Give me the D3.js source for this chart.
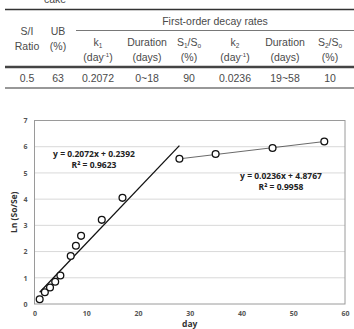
<!DOCTYPE html>
<html>
<head>
<meta charset="utf-8">
<script src="https://cdn.jsdelivr.net/npm/d3@7"></script>
<style>
  body { margin: 0; background: #fff; }
  svg { display: block; }
</style>
</head>
<body>
<svg id="chart" width="354" height="329"></svg>
<script>
// table content
const colCenters = [27, 58, 98, 147, 189, 235, 285, 330];
const headTop = ["S/I", "UB"];
const headBottom = ["Ratio", "(%)"];
const rowValues = ["0.5", "63", "0.2072", "0~18", "90", "0.0236", "19~58", "10"];

// scatter data
const days = [1, 2, 3, 4, 5, 7, 8, 9, 13, 17, 28, 35, 46, 56];
const lnRatio = [0.18, 0.45, 0.63, 0.85, 1.09, 1.83, 2.22, 2.6, 3.21, 4.05, 5.54, 5.72, 5.95, 6.2];

// trendlines
const slopes = [0.2072, 0.0236];
const intercepts = [0.2392, 4.8767];
const fitRanges = [[1, 28], [28, 56]];
const fitLabels = [["y = 0.2072x + 0.2392", "R² = 0.9623"], ["y = 0.0236x + 4.8767", "R² = 0.9958"]];

const xTicks = [0, 10, 20, 30, 40, 50, 60];
const yTicks = [0, 1, 2, 3, 4, 5, 6, 7];

const svg = d3.select("#chart");

// ---------- table ----------
const tbl = svg.append("g")
    .style("font-family", "'Liberation Sans', Arial, sans-serif")
    .style("font-size", "10.5px")
    .attr("fill", "#4a4a4a");

tbl.append("text").attr("x", 55).attr("y", 3).attr("text-anchor", "middle").text("cake");

tbl.append("line").attr("x1", 5).attr("x2", 354).attr("y1", 9.5).attr("y2", 9.5)
    .attr("stroke", "#333").attr("stroke-width", 1.6);
tbl.append("text").attr("x", 215).attr("y", 24.5).attr("text-anchor", "middle").text("First-order decay rates");
tbl.append("line").attr("x1", 76).attr("x2", 354).attr("y1", 30.5).attr("y2", 30.5)
    .attr("stroke", "#555").attr("stroke-width", 0.8);

headTop.forEach((t, i) => {
    tbl.append("text").attr("x", colCenters[i]).attr("y", 35).attr("text-anchor", "middle").text(t);
    tbl.append("text").attr("x", colCenters[i]).attr("y", 50).attr("text-anchor", "middle").text(headBottom[i]);
});

// sub headers with sub/superscripts
function kHead(x, n) {
    const t = tbl.append("text").attr("x", x).attr("y", 45.5).attr("text-anchor", "middle");
    t.append("tspan").text("k");
    t.append("tspan").attr("font-size", "6.5px").attr("dy", 2).text(n);
    const u = tbl.append("text").attr("x", x).attr("y", 61).attr("text-anchor", "middle");
    u.append("tspan").text("(day");
    u.append("tspan").attr("font-size", "6px").attr("dy", -4).text("-1");
    u.append("tspan").attr("dy", 4).text(")");
}
function durHead(x) {
    tbl.append("text").attr("x", x).attr("y", 45.5).attr("text-anchor", "middle").text("Duration");
    tbl.append("text").attr("x", x).attr("y", 61).attr("text-anchor", "middle").text("(days)");
}
function sHead(x, n) {
    const t = tbl.append("text").attr("x", x).attr("y", 45.5).attr("text-anchor", "middle");
    t.append("tspan").text("S");
    t.append("tspan").attr("font-size", "6.5px").attr("dy", 2).text(n);
    t.append("tspan").attr("dy", -2).text("/S");
    t.append("tspan").attr("font-size", "6.5px").attr("dy", 2).text("o");
    tbl.append("text").attr("x", x).attr("y", 61).attr("text-anchor", "middle").text("(%)");
}
kHead(colCenters[2], "1");
durHead(colCenters[3]);
sHead(colCenters[4], "1");
kHead(colCenters[5], "2");
durHead(colCenters[6]);
sHead(colCenters[7], "2");

tbl.append("line").attr("x1", 5).attr("x2", 354).attr("y1", 67).attr("y2", 67)
    .attr("stroke", "#444").attr("stroke-width", 2.6);
rowValues.forEach((v, i) => {
    tbl.append("text").attr("x", colCenters[i]).attr("y", 81.5).attr("text-anchor", "middle").text(v);
});
tbl.append("line").attr("x1", 5).attr("x2", 354).attr("y1", 88).attr("y2", 88)
    .attr("stroke", "#333").attr("stroke-width", 1.2);

// ---------- chart ----------
const x = d3.scaleLinear().domain([0, 60]).range([34.5, 345]);
const y = d3.scaleLinear().domain([0, 7]).range([304, 120.5]);

const g = svg.append("g")
    .style("font-family", "'Open Sans', sans-serif");

g.append("g")
    .selectAll("line")
    .data(yTicks.slice(1, -1))
    .join("line")
    .attr("x1", x(0)).attr("x2", x(60))
    .attr("y1", d => y(d)).attr("y2", d => y(d))
    .attr("stroke", "#d9d9d9").attr("stroke-width", 1);

g.append("rect")
    .attr("x", x(0)).attr("y", y(7))
    .attr("width", x(60) - x(0)).attr("height", y(0) - y(7))
    .attr("fill", "none").attr("stroke", "#9a9a9a").attr("stroke-width", 1);

const yAxis = g.append("g")
    .attr("transform", `translate(${x(0)},0)`)
    .call(d3.axisLeft(y).tickValues(yTicks).tickFormat(d3.format("d")).tickSize(0).tickPadding(7));
const xAxis = g.append("g")
    .attr("transform", `translate(0,${y(0)})`)
    .call(d3.axisBottom(x).tickValues(xTicks).tickFormat(d3.format("d")).tickSize(0).tickPadding(7));
[xAxis, yAxis].forEach(a => {
    a.select(".domain").remove();
    a.selectAll("text")
        .attr("fill", "#555")
        .style("font-size", "7px")
        .style("font-weight", "bold")
        .style("font-family", "'Open Sans', sans-serif");
});

g.append("text")
    .attr("transform", `translate(17,${(y(0) + y(7)) / 2}) rotate(-90)`)
    .attr("text-anchor", "middle")
    .style("font-size", "8.5px").style("font-weight", "bold").attr("fill", "#333")
    .text("Ln (So/Se)");
g.append("text")
    .attr("x", (x(0) + x(60)) / 2).attr("y", 327)
    .attr("text-anchor", "middle")
    .style("font-size", "8.5px").style("font-weight", "bold").attr("fill", "#333")
    .text("day");

// trendlines
const fitWidths = [1.3, 0.8];
const fitColors = ["#111", "#444"];
slopes.forEach((m, i) => {
    const xs = fitRanges[i];
    g.append("line")
        .attr("x1", x(xs[0])).attr("y1", y(m * xs[0] + intercepts[i]))
        .attr("x2", x(xs[1])).attr("y2", y(m * xs[1] + intercepts[i]))
        .attr("stroke", fitColors[i]).attr("stroke-width", fitWidths[i]);
});

// points
g.append("g")
    .selectAll("circle")
    .data(days.map((d, i) => [d, lnRatio[i]]))
    .join("circle")
    .attr("cx", d => x(d[0])).attr("cy", d => y(d[1]))
    .attr("r", 3.4)
    .attr("fill", "#fff").attr("stroke", "#111").attr("stroke-width", 1.3);

// equation labels
const labelPos = [[94, 157], [281, 179]];
fitLabels.forEach((lines, i) => {
    lines.forEach((t, j) => {
        g.append("text")
            .attr("x", labelPos[i][0]).attr("y", labelPos[i][1] + j * 11)
            .attr("text-anchor", "middle")
            .style("font-size", "8.5px").style("font-weight", "bold")
            .attr("fill", "#222")
            .text(t);
    });
});
</script>
</body>
</html>
